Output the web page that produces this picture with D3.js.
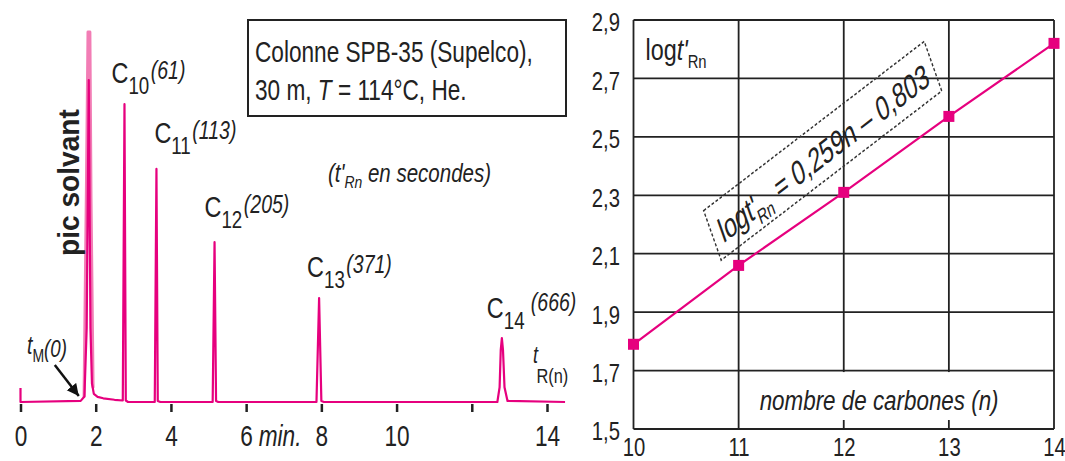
<!DOCTYPE html>
<html>
<head>
<meta charset="utf-8">
<script src="https://cdn.jsdelivr.net/npm/d3@7"></script>
<style>
  body { margin: 0; background: #fff; }
  svg text { font-family: "Liberation Sans", Arial, sans-serif; fill: #222; }
</style>
</head>
<body>
<script>
// ---- chromatogram (left) : time in min, detector signal in % of full scale
const traceTime   = [0, 0, 1.60, 1.70, 1.76, 1.815, 1.86, 1.90, 1.95, 2.05, 2.20, 2.50, 2.72, 2.765, 2.80, 2.86,
                     3.57, 3.615, 3.65, 3.72, 5.11, 5.16, 5.20, 5.26, 7.87, 7.94, 8.00, 8.07,
                     12.68, 12.74, 12.77, 12.80, 12.83, 12.87, 12.95, 14.48];
const traceSignal = [3.8, 0, 0.3, 1.5, 20, 87, 20, 5, 2.2, 1.4, 1.0, 0.6, 0.4, 80.5, 0.4, 0,
                     0, 63, 0.3, 0, 0, 43.2, 0.3, 0, 0, 28.1, 0.3, 0,
                     0, 4, 14, 17.3, 14, 4, 0.3, 0];
const solventTime   = [1.69, 1.755, 1.795, 1.845, 1.875, 1.93];
const solventSignal = [1.5, 60, 100, 100, 55, 4];

const peakCarbons = [10, 11, 12, 13, 14];
const peakTimes   = [2.765, 3.615, 5.16, 7.94, 12.80];
const peakHeights = [80.5, 63, 43.2, 28.1, 17.3];
const peakTprime  = [61, 113, 205, 371, 666];   // t'R in seconds
const timeTicks   = [0, 2, 4, 6, 8, 10, 12, 14];

// ---- log t'R vs number of carbons (right)
const carbonNumbers = [10, 11, 12, 13, 14];
const logTR         = [1.79, 2.06, 2.31, 2.57, 2.82];
const logTicks      = [1.5, 1.7, 1.9, 2.1, 2.3, 2.5, 2.7, 2.9];

const W = 1065, H = 461;
const SX = 0.78;               // condensed look
const PINK = '#e6007e', LIGHT = '#f27db5', INK = '#222';

const svg = d3.select('body').append('svg')
  .attr('width', W).attr('height', H)
  .style('background', '#fff');

// text squeezed horizontally, placed at x,y
function squeezed(parent, x, y, sx = SX, rot = '') {
  return parent.append('g')
    .attr('transform', `translate(${x},${y})${rot} scale(${sx},1)`)
    .append('text');
}

// ================= LEFT =================
const xL = d3.scaleLinear().domain([0, 14]).range([20.5, 547]);
const yL = d3.scaleLinear().domain([0, 100]).range([402, 32]);

const axL = svg.append('g').attr('transform', 'translate(0,404)')
  .call(d3.axisBottom(xL).tickValues(timeTicks).tickSize(8).tickPadding(13)
    .tickFormat(d => d === 12 ? '' : d));
axL.select('.domain').remove();
axL.selectAll('line').attr('stroke', INK).attr('stroke-width', 2.5);
axL.selectAll('text').attr('font-size', 29).attr('fill', INK)
  .attr('transform', `scale(${SX},1)`);
axL.selectAll('.tick').filter(d => d === 6).append('text')
  .attr('transform', `scale(${SX},1)`)
  .attr('x', 15.5).attr('y', 21).attr('dy', '0.71em')
  .attr('text-anchor', 'start').attr('font-size', 29)
  .attr('font-style', 'italic').attr('fill', INK)
  .text('min.');

const lineL = d3.line().x(d => xL(d[0])).y(d => yL(d[1]));

svg.append('path')
  .datum(d3.zip(solventTime, solventSignal))
  .attr('d', lineL).attr('fill', 'none')
  .attr('stroke', LIGHT).attr('stroke-width', 3)
  .attr('stroke-linejoin', 'round').attr('stroke-linecap', 'round');

svg.append('path')
  .datum(d3.zip(traceTime, traceSignal))
  .attr('d', lineL).attr('fill', 'none')
  .attr('stroke', PINK).attr('stroke-width', 2.2)
  .attr('stroke-linejoin', 'round');

// peak labels
const labelDx = [-13, -2, -10, -12, -15];
const labelDy = [-21, -26, -25, -21, -20];
peakCarbons.forEach((c, i) => {
  const t = squeezed(svg, xL(peakTimes[i]) + labelDx[i], yL(peakHeights[i]) + labelDy[i]);
  t.append('tspan').attr('font-size', 30).text('C');
  t.append('tspan').attr('font-size', 24).attr('dy', 11).text(c);
  t.append('tspan').attr('font-size', 25).attr('font-style', 'italic')
    .attr('dx', c === 14 ? 8 : 2).attr('dy', c === 14 ? -18 : -15).text(`(${peakTprime[i]})`);
});

// solvent label
squeezed(svg, 79, 256, 0.97, ' rotate(-90)')
  .attr('font-size', 29).attr('font-weight', 'bold').text('pic solvant');

// column box
svg.append('rect').attr('x', 248).attr('y', 20).attr('width', 318).attr('height', 96)
  .attr('fill', '#fff').attr('stroke', INK).attr('stroke-width', 2);
squeezed(svg, 255, 62).attr('font-size', 29).text('Colonne SPB-35 (Supelco),');
const l2 = squeezed(svg, 255, 100).attr('font-size', 29);
l2.append('tspan').text('30 m, ');
l2.append('tspan').attr('font-style', 'italic').text('T');
l2.append('tspan').text(' = 114°C, He.');

// (t'Rn en secondes)
const ts = squeezed(svg, 328, 182, 0.82).attr('font-size', 25).attr('font-style', 'italic');
ts.append('tspan').text("(t'");
ts.append('tspan').attr('font-size', 17).attr('dy', 6).text('Rn');
ts.append('tspan').attr('dy', -6).text(' en secondes)');

// tM(0) + arrow
const tm = squeezed(svg, 27, 354).attr('font-style', 'italic');
tm.append('tspan').attr('font-size', 25).text('t');
tm.append('tspan').attr('font-size', 18).attr('dy', 8).attr('font-style', 'normal').text('M');
tm.append('tspan').attr('font-size', 24).attr('dy', -5).text('(0)');

svg.append('defs').append('marker')
  .attr('id', 'head').attr('markerUnits', 'userSpaceOnUse')
  .attr('markerWidth', 14).attr('markerHeight', 14)
  .attr('refX', 12).attr('refY', 6).attr('orient', 'auto')
  .append('path').attr('d', 'M0,0 L12,6 L0,12 Z').attr('fill', '#111');
const tip = [xL(1.55), yL(1.6)];
svg.append('line')
  .attr('x1', tip[0] - 24).attr('y1', tip[1] - 31)
  .attr('x2', tip[0]).attr('y2', tip[1])
  .attr('stroke', '#111').attr('stroke-width', 2.5)
  .attr('marker-end', 'url(#head)');

// tR(n)
const tr = squeezed(svg, 533, 363);
tr.append('tspan').attr('font-size', 23).attr('font-style', 'italic').text('t');
tr.append('tspan').attr('font-size', 21).attr('dx', -2).attr('dy', 20).text('R(n)');

// ================= RIGHT =================
const xR = d3.scaleLinear().domain([10, 14]).range([633.5, 1054]);
const yR = d3.scaleLinear().domain([1.5, 2.9]).range([429, 20]);
const fr = d3.formatLocale({ decimal: ',', thousands: ' ', grouping: [3], currency: ['', ' €'] });
const fmt1 = fr.format('.1f');

const grid = svg.append('g').attr('stroke', INK).attr('stroke-width', 1.8);
grid.selectAll('.h').data(logTicks).join('line')
  .attr('x1', xR(10)).attr('x2', xR(14))
  .attr('y1', d => yR(d)).attr('y2', d => yR(d));
grid.selectAll('.v').data(carbonNumbers).join('line')
  .attr('x1', d => xR(d)).attr('x2', d => xR(d))
  .attr('y1', yR(2.9)).attr('y2', yR(1.5));

const ayR = svg.append('g').attr('transform', `translate(${xR(10)},0)`)
  .call(d3.axisLeft(yR).tickValues(logTicks).tickSize(0).tickFormat(fmt1));
ayR.select('.domain').remove();
ayR.selectAll('text').attr('font-size', 26).attr('fill', INK)
  .attr('x', -13.5 / SX).attr('dy', '0.42em')
  .attr('transform', `scale(${SX},1)`);

const axR = svg.append('g').attr('transform', `translate(0,${yR(1.5)})`)
  .call(d3.axisBottom(xR).tickValues(carbonNumbers).tickSize(0).tickPadding(9).tickFormat(d3.format('d')));
axR.select('.domain').remove();
axR.selectAll('text').attr('font-size', 26).attr('fill', INK)
  .attr('transform', `scale(${SX},1)`);

// x title with white background
const xt = squeezed(svg, xR(11) + 21, yR(1.5) - 19, 0.8)
  .attr('font-size', 28).attr('font-style', 'italic').text('nombre de carbones (n)');
const bb = xt.node().getBoundingClientRect();
svg.insert('rect', function () { return xt.node().parentNode; })
  .attr('x', bb.left - 6).attr('width', bb.width + 12)
  .attr('y', yR(1.7) + 1.5).attr('height', yR(1.5) - 9 - yR(1.7) - 1.5)
  .attr('fill', '#fff');

// y title
const yt = squeezed(svg, xR(10) + 12, 60).attr('font-size', 30);
yt.append('tspan').text('log');
yt.append('tspan').attr('font-style', 'italic').text("t'");
yt.append('tspan').attr('font-size', 19).attr('dy', 8).text('Rn');

// regression label box (rotated, sheared like italics)
const eq = svg.append('g').attr('transform', 'translate(822.7,150.8) rotate(-37.5) skewX(-18)');
eq.append('rect').attr('x', -139).attr('y', -25).attr('width', 278).attr('height', 50)
  .attr('fill', 'none').attr('stroke', '#333').attr('stroke-width', 1.5)
  .attr('stroke-dasharray', '3,2');
const eqt = eq.append('g').attr('transform', 'scale(0.82,1)').append('text')
  .attr('text-anchor', 'middle').attr('y', 13).attr('font-size', 31);
eqt.append('tspan').text("logt'");
eqt.append('tspan').attr('font-size', 19).attr('dx', -3).attr('dy', 8).text('Rn');
eqt.append('tspan').attr('dy', -8).text(' = 0,259n – 0,803');

// line + markers
const ptsR = d3.zip(carbonNumbers, logTR);
svg.append('path').datum(ptsR)
  .attr('d', d3.line().x(d => xR(d[0])).y(d => yR(d[1])))
  .attr('fill', 'none').attr('stroke', PINK).attr('stroke-width', 2.2);
svg.selectAll('.mk').data(ptsR).join('rect')
  .attr('x', d => xR(d[0]) - 5.5).attr('y', d => yR(d[1]) - 5.5)
  .attr('width', 11).attr('height', 11).attr('fill', PINK);
</script>
</body>
</html>
